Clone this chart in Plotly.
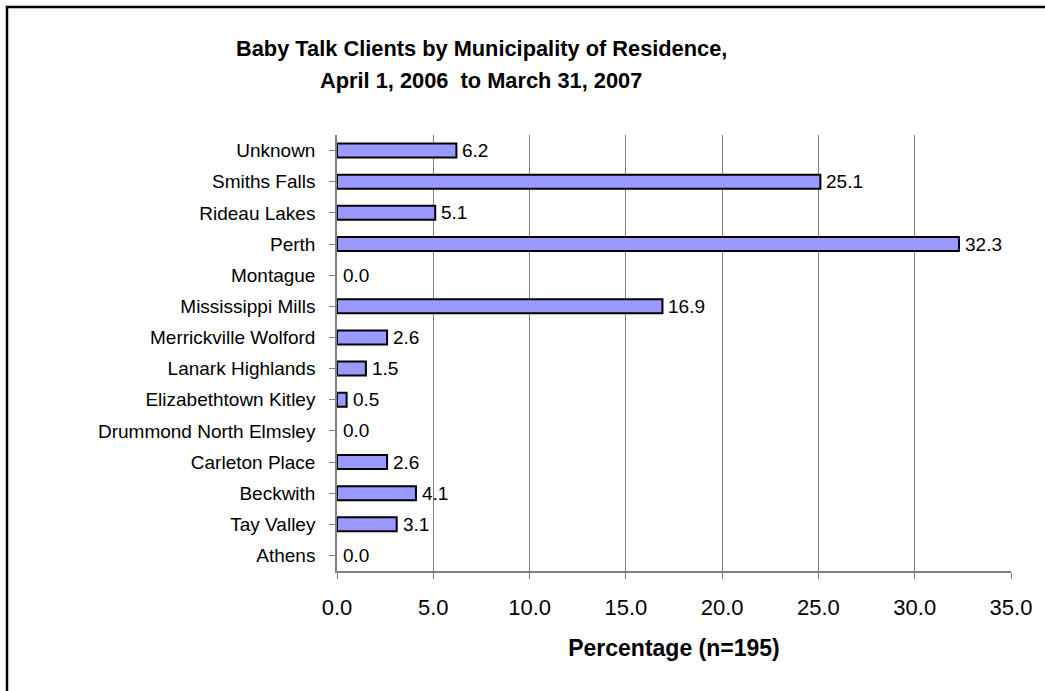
import plotly.graph_objects as go

categories = ["Athens", "Tay Valley", "Beckwith", "Carleton Place", "Drummond North Elmsley",
              "Elizabethtown Kitley", "Lanark Highlands", "Merrickville Wolford",
              "Mississippi Mills", "Montague", "Perth", "Rideau Lakes", "Smiths Falls", "Unknown"]
values = [0.0, 3.1, 4.1, 2.6, 0.0, 0.5, 1.5, 2.6, 16.9, 0.0, 32.3, 5.1, 25.1, 6.2]
x_ticks = [0, 5, 10, 15, 20, 25, 30, 35]
x_tick_labels = ["0.0", "5.0", "10.0", "15.0", "20.0", "25.0", "30.0", "35.0"]

W, H = 1045, 691
L, R, T, B = 337, 34, 135, 120
pw, ph = W - L - R, H - T - B

FONT = "Liberation Sans, Arial, sans-serif"

fig = go.Figure()
fig.add_trace(go.Bar(
    y=categories, x=values, orientation="h",
    marker=dict(color="#9999FF",
                line=dict(color="black", width=[2 if v > 0 else 0 for v in values])),
    width=0.45, hoverinfo="skip",
))

for c, v in zip(categories, values):
    fig.add_annotation(x=v, y=c, text=f"{v:.1f}", showarrow=False,
                       xanchor="left", xshift=4, font=dict(size=19, color="black", family=FONT))

fig.update_layout(
    width=W, height=H, margin=dict(l=L, r=R, t=T, b=B),
    paper_bgcolor="white", plot_bgcolor="white", showlegend=False,
    font=dict(family=FONT, color="black", size=18),
)
fig.update_xaxes(range=[0, 35], tickvals=x_ticks, ticktext=x_tick_labels,
                 showgrid=True, gridcolor="#808080", gridwidth=1,
                 showline=True, linecolor="#808080", linewidth=1.5,
                 ticks="outside", ticklen=6, tickcolor="#808080",
                 ticklabelstandoff=10, tickfont=dict(size=22),
                 zeroline=False,
                 title=dict(text="<b>Percentage (n=195)</b>", font=dict(size=23), standoff=21))
fig.update_yaxes(categoryorder="array", categoryarray=categories,
                 showline=True, linecolor="#808080", linewidth=1.5,
                 ticks="outside", ticklen=6, tickcolor="#808080",
                 ticklabelstandoff=10, tickfont=dict(size=19), showgrid=False)

# title lines
fig.add_annotation(xref="paper", yref="paper", x=(481 - L) / pw, y=(H - B - 48) / ph,
                   text="<b>Baby Talk Clients by Municipality of Residence,</b>",
                   showarrow=False, xanchor="center", yanchor="middle",
                   font=dict(size=21.8, family=FONT))
fig.add_annotation(xref="paper", yref="paper", x=(481 - L) / pw, y=(H - B - 80) / ph,
                   text="<b>April 1, 2006  to March 31, 2007</b>",
                   showarrow=False, xanchor="center", yanchor="middle",
                   font=dict(size=21.8, family=FONT))

# outer frame
fig.add_shape(type="rect", xref="paper", yref="paper",
              x0=(7 - L) / pw, x1=(1060 - L) / pw,
              y0=(H - B - 710) / ph, y1=(H - B - 7) / ph,
              line=dict(color="black", width=2.5), fillcolor="rgba(0,0,0,0)", layer="above")

fig.write_html("out.html", config={"displayModeBar": False},
               post_script="document.body.style.margin='0';document.body.style.overflow='hidden';")
